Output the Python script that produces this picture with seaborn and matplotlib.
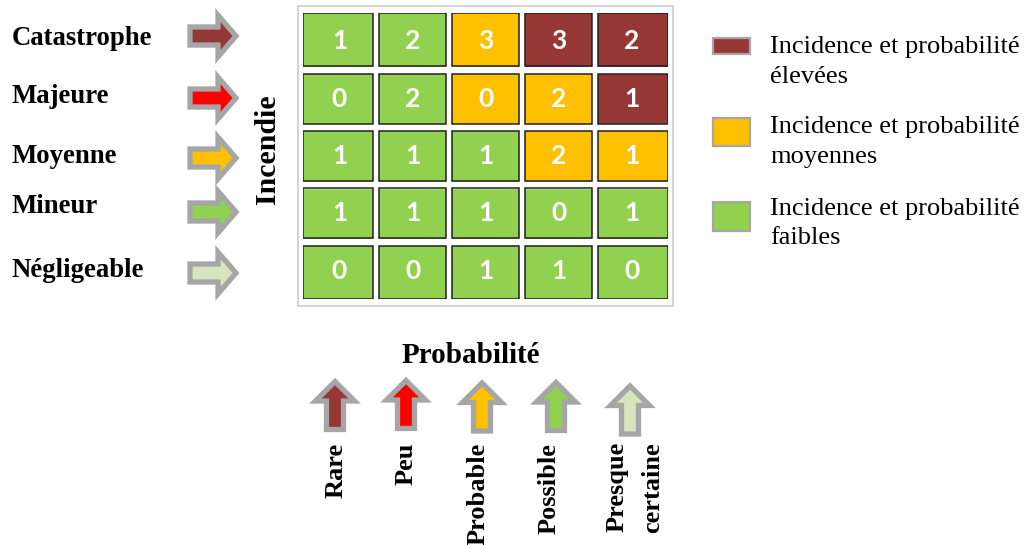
import matplotlib
matplotlib.use("Agg")
import matplotlib.pyplot as plt
from matplotlib.colors import ListedColormap
from matplotlib.patches import Polygon, Rectangle
import numpy as np
import seaborn as sns

# ---- data -------------------------------------------------------------
incidence_labels = ["Catastrophe", "Majeure", "Moyenne", "Mineur", "Négligeable"]
probability_labels = ["Rare", "Peu", "Probable", "Possible", "Presque\ncertaine"]

# number of fire events per (incidence, probability) cell
counts = [
    [1, 2, 3, 3, 2],
    [0, 2, 0, 2, 1],
    [1, 1, 1, 2, 1],
    [1, 1, 1, 0, 1],
    [0, 0, 1, 1, 0],
]

# risk level of each cell: 0 = faible, 1 = moyen, 2 = élevé
risk_levels = [
    [0, 0, 1, 2, 2],
    [0, 0, 1, 1, 2],
    [0, 0, 0, 1, 1],
    [0, 0, 0, 0, 0],
    [0, 0, 0, 0, 0],
]

legend_labels = [
    "Incidence et probabilité\nélevées",
    "Incidence et probabilité\nmoyennes",
    "Incidence et probabilité\nfaibles",
]

# ---- colours ----------------------------------------------------------
GREEN = "#92D050"
ORANGE = "#FFC000"
DARKRED = "#953735"
RISK_COLORS = [GREEN, ORANGE, DARKRED]
INCIDENCE_ARROW_COLORS = [DARKRED, "#FF0000", ORANGE, GREEN, "#D7E4BD"]
PROBA_ARROW_COLORS = [DARKRED, "#FF0000", ORANGE, GREEN, "#D7E4BD"]
ARROW_EDGE = "#A6A6A6"

W, H = 1026, 545
fig = plt.figure(figsize=(W / 100, H / 100), dpi=100)

# background axes in pixel units for labels and decorations
bg = fig.add_axes([0, 0, 1, 1])
bg.set_xlim(0, W)
bg.set_ylim(H, 0)
bg.axis("off")

SERIF = "Liberation Serif"

# ---- matrix -----------------------------------------------------------
left, right, top, bottom = 303, 668, 12.7, 299.3
ax = fig.add_axes([left / W, 1 - bottom / H, (right - left) / W, (bottom - top) / H])
sns.heatmap(
    np.array(risk_levels),
    cmap=ListedColormap(RISK_COLORS),
    vmin=-0.5, vmax=2.5,
    annot=np.array(counts), fmt="d",
    annot_kws=dict(color="white", fontsize=19, fontweight="bold", family="Lato"),
    cbar=False, xticklabels=False, yticklabels=False,
    linewidths=0, ax=ax,
)
ax.tick_params(length=0)

n_rows, n_cols = np.array(counts).shape
gap_x, gap_y = 6.0, 7.4  # px
cell_w = (right - left) / n_cols
cell_h = (bottom - top) / n_rows
dx = gap_x / 2 / cell_w
dy = gap_y / 2 / cell_h
for j in range(1, n_cols):
    ax.axvline(j, color="white", lw=gap_x * 0.72, zorder=3)
for i in range(1, n_rows):
    ax.axhline(i, color="white", lw=gap_y * 0.72, zorder=3)
for i in range(n_rows):
    for j in range(n_cols):
        x0 = j + (dx if j > 0 else 0)
        x1 = j + 1 - (dx if j < n_cols - 1 else 0)
        y0 = i + (dy if i > 0 else 0)
        y1 = i + 1 - (dy if i < n_rows - 1 else 0)
        ax.add_patch(Rectangle((x0, y0), x1 - x0, y1 - y0, fill=False,
                               edgecolor="#1f1f1f", lw=1.1, zorder=4))

# light frame around the matrix
bg.add_patch(Rectangle((298.3, 6), 672.5 - 298.3, 306 - 6, fill=False,
                       edgecolor="#D0D0D0", lw=1.3))


# ---- block arrows -----------------------------------------------------
def right_arrow(cx, cy, color):
    pts = [(cx - 23, cy - 9), (cx + 5, cy - 9), (cx + 5, cy - 20.8),
           (cx + 23, cy), (cx + 5, cy + 20.8), (cx + 5, cy + 9), (cx - 23, cy + 9)]
    bg.add_patch(Polygon(pts, closed=True, facecolor=color, edgecolor=ARROW_EDGE,
                         lw=3.8, joinstyle="miter"))


def up_arrow(cx, cy, color):
    pts = [(cx - 8.5, cy + 24.5), (cx - 8.5, cy - 4), (cx - 19.5, cy - 4),
           (cx, cy - 23.5), (cx + 19.5, cy - 4), (cx + 8.5, cy - 4), (cx + 8.5, cy + 24.5)]
    bg.add_patch(Polygon(pts, closed=True, facecolor=color, edgecolor=ARROW_EDGE,
                         lw=3.8, joinstyle="miter"))


# incidence labels and arrows (left)
label_baselines = [45, 103.3, 162.7, 213.3, 276.7]
arrow_rows = [36, 98, 158, 212, 273]
for lab, yb, ya, col in zip(incidence_labels, label_baselines, arrow_rows,
                            INCIDENCE_ARROW_COLORS):
    bg.text(12, yb, lab, family=SERIF, fontweight="bold", fontsize=19.3,
            ha="left", va="baseline")
    right_arrow(213, ya, col)

bg.text(267, 149, "Incendie", family=SERIF, fontweight="bold", fontsize=21.5,
        rotation=90, ha="center", va="center")

# probability title, arrows and labels (bottom)
bg.text(471, 363.3, "Probabilité", family=SERIF, fontweight="bold", fontsize=21,
        ha="center", va="baseline")
arrow_x = [335, 406, 482, 556, 630]
arrow_y = [405, 404, 406.5, 406, 409.5]
for ax_, ay_, col in zip(arrow_x, arrow_y, PROBA_ARROW_COLORS):
    up_arrow(ax_, ay_, col)

label_x = [336, 406, 478, 549, 635]
for lab, lx in zip(probability_labels, label_x):
    lines = lab.split("\n")
    if len(lines) == 1:
        bg.text(lx, 443, lab, family=SERIF, fontweight="bold", fontsize=19,
                rotation=90, ha="center", va="top")
    else:
        for k, line in enumerate(lines):
            bg.text(lx - 18 + 36 * k, 442, line, family=SERIF, fontweight="bold",
                    fontsize=19, rotation=90, ha="center", va="top")

# ---- legend -----------------------------------------------------------
legend_boxes = [(38.3, 54.3), (117.7, 145.7), (201.7, 230.7)]
legend_baselines = [53.3, 133, 215]
for lab, (y0, y1), yb, col in zip(legend_labels, legend_boxes, legend_baselines,
                                  [DARKRED, ORANGE, GREEN]):
    bg.add_patch(Rectangle((713, y0), 37, y1 - y0, facecolor=col,
                           edgecolor=ARROW_EDGE, lw=1.6))
    for k, line in enumerate(lab.split("\n")):
        bg.text(770, yb + 29.5 * k, line, family=SERIF, fontsize=19,
                ha="left", va="baseline")

fig.savefig("out.png", dpi=100)
